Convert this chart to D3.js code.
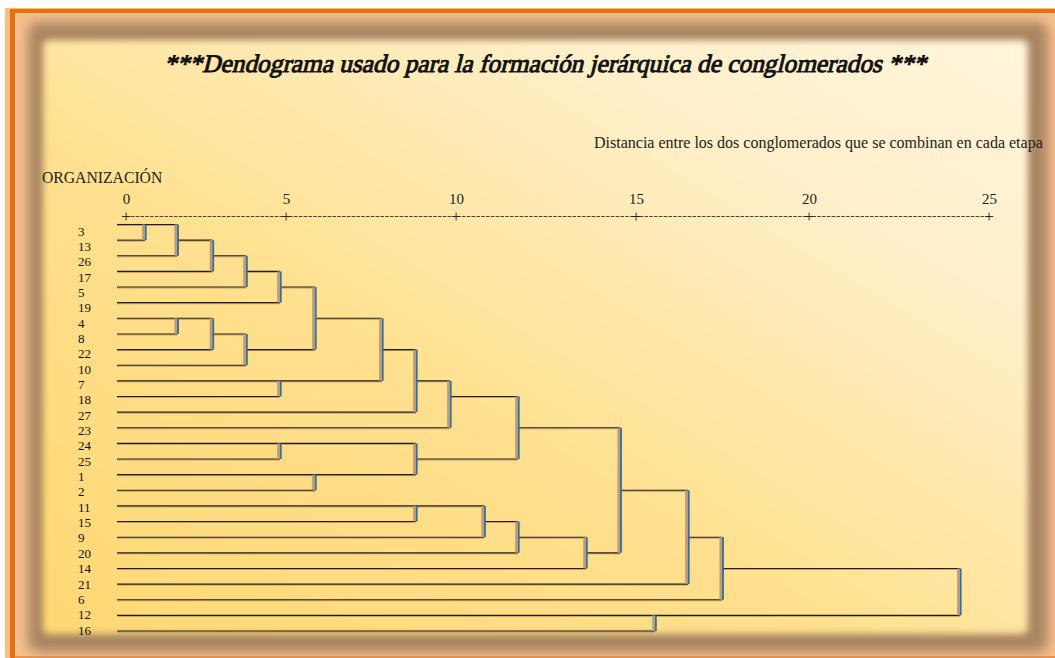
<!DOCTYPE html>
<html><head><meta charset="utf-8">
<script src="https://cdn.jsdelivr.net/npm/d3@7"></script>
<style>html,body{margin:0;padding:0;background:#fff;} svg{display:block;}</style>
</head><body>
<svg id="c" width="1055" height="658"></svg>
<script>
// ---------- data ----------
const leaves = ["3","13","26","17","5","19","4","8","22","10","7","18","27","23","24","25","1","2","11","15","9","20","14","21","6","12","16"];
// agglomeration stages: cluster kept, cluster joined, rescaled distance
const mergeA = ["3","4","3","4","3","3","4","3","7","24","3","1","3","3","24","11","3","11","3","11","11","3","12","3","3","3"];
const mergeB = ["13","8","26","22","17","5","10","19","18","25","4","2","7","27","1","15","23","9","24","20","14","11","16","21","6","12"];
const mergeDist = [0.59,1.6,1.6,2.7,2.7,3.75,3.75,4.81,4.81,4.81,5.85,5.85,7.82,8.82,8.82,8.82,9.82,10.78,11.72,11.72,13.61,14.56,15.55,16.5,17.49,24.19];
const axisTicks = [0,5,10,15,20,25];
const titleText = "***Dendograma usado para la formación jerárquica de conglomerados ***";
const xTitleText = "Distancia entre los dos conglomerados que se combinan en cada etapa";
const yTitleText = "ORGANIZACIÓN";

// ---------- layout ----------
const W = 1055, H = 658;
const SERIF = "'Liberation Serif','Times New Roman',Times,serif";
const tickPx = [126,286,456,636,809,989];
const svg = d3.select("#c");
const defs = svg.append("defs");

const grad = defs.append("linearGradient").attr("id","bg").attr("x1",0).attr("y1",1).attr("x2",1).attr("y2",0);
[[0,"#ffd874"],[0.4,"#ffe08e"],[0.75,"#ffefc8"],[1,"#fff5dc"]].forEach(s=>grad.append("stop").attr("offset",s[0]).attr("stop-color",s[1]));
defs.append("filter").attr("id","blurS").attr("x","-5%").attr("y","-5%").attr("width","110%").attr("height","110%")
  .append("feGaussianBlur").attr("stdDeviation",6);
defs.append("filter").attr("id","blurI").attr("x","-5%").attr("y","-5%").attr("width","110%").attr("height","110%")
  .append("feGaussianBlur").attr("stdDeviation",3.5);

// frame
svg.append("rect").attr("x",0).attr("y",0).attr("width",W).attr("height",H).attr("fill","#fff");
svg.append("rect").attr("x",5).attr("y",8).attr("width",W-5).attr("height",H-8).attr("fill","#f6bf8e");
svg.append("rect").attr("x",10).attr("y",9).attr("width",W-10).attr("height",4).attr("fill","#e8700e");
svg.append("rect").attr("x",10).attr("y",9).attr("width",5).attr("height",H-9).attr("fill","#e8700e");
svg.append("rect").attr("x",15).attr("y",H-2).attr("width",W-15).attr("height",2).attr("fill","#ec9350");
svg.append("rect").attr("x",28).attr("y",22).attr("width",1020).attr("height",630).attr("rx",10)
  .attr("fill","#a98562").attr("filter","url(#blurS)");
svg.append("rect").attr("x",43).attr("y",40).attr("width",985).attr("height",594).attr("rx",6)
  .attr("fill","url(#bg)").attr("filter","url(#blurI)");

// scales
const x = d3.scaleLinear().domain(axisTicks).range(tickPx);
const yRow = d3.scaleLinear().domain([0, leaves.length-1]).range([224.5, 631]);
const yLab = d3.scaleLinear().domain([0, leaves.length-1]).range([231, 630]);
const leafStart = x(0) - 9;

// title (serif regular, slanted and emboldened)
const tG = svg.append("g").attr("transform","translate(545,72) skewX(-14)");
const tT = tG.append("text").attr("x",0).attr("y",0).attr("text-anchor","middle")
  .attr("font-family",SERIF).attr("font-weight","normal").attr("font-style","normal").attr("font-size",23)
  .attr("fill","#111").attr("stroke","#111").attr("stroke-width",0.95).attr("paint-order","stroke")
  .text(titleText);
const tw = tT.node().getComputedTextLength();
tT.attr("font-size", 23 * 762 / tw);

svg.append("text").attr("x",594).attr("y",148)
  .attr("font-family",SERIF).attr("font-size",16).attr("fill","#222").text(xTitleText);
svg.append("text").attr("x",42).attr("y",183)
  .attr("font-family",SERIF).attr("font-size",15.7).attr("fill","#222").text(yTitleText);

// axis
const axisY = 216.5;
const ax = svg.append("g").attr("transform",`translate(0,${axisY})`)
  .call(d3.axisTop(x).tickValues(axisTicks).tickSize(0).tickPadding(13).tickFormat(d3.format("d")));
ax.select(".domain").remove();
ax.selectAll("text").attr("font-family",SERIF).attr("font-size",15).attr("fill","#222");
svg.append("line").attr("x1",x(0)).attr("x2",x(25)).attr("y1",axisY).attr("y2",axisY)
  .attr("stroke","#444").attr("stroke-width",1).attr("stroke-dasharray","3.6,1.2");
svg.append("g").selectAll("text").data(axisTicks).join("text")
  .attr("x",d=>x(d)).attr("y",axisY+5.5).attr("text-anchor","middle")
  .attr("font-family",SERIF).attr("font-size",17).attr("fill","#222").text("+");

// leaf labels
svg.append("g").selectAll("text").data(leaves).join("text")
  .attr("x",78).attr("y",(d,i)=>yLab(i)).attr("dy","0.35em")
  .attr("font-family",SERIF).attr("font-size",13).attr("fill","#111").text(d=>d);

// dendrogram
const state = new Map(leaves.map((l,i)=>[l,{dist:null,row:i}]));
const hSegs = [], vSegs = [];
mergeA.forEach((a,i)=>{
  const b = mergeB[i], d = mergeDist[i];
  const A = state.get(a), B = state.get(b);
  [A,B].forEach(n=>hSegs.push({x0: n.dist===null ? leafStart : x(n.dist), x1: x(d), y: yRow(n.row)}));
  vSegs.push({x: x(d), y0: yRow(Math.min(A.row,B.row)), y1: yRow(Math.max(A.row,B.row))});
  state.set(a,{dist:d,row:Math.floor((A.row+B.row)/2)});
});
const gD = svg.append("g");
gD.selectAll("line.hs").data(hSegs).join("line").attr("class","hs")
  .attr("x1",d=>d.x0).attr("x2",d=>d.x1).attr("y1",d=>d.y+1).attr("y2",d=>d.y+1)
  .attr("stroke","#8c6f48").attr("stroke-opacity",0.55).attr("stroke-width",1);
gD.selectAll("line.h").data(hSegs).join("line").attr("class","h")
  .attr("x1",d=>d.x0).attr("x2",d=>d.x1).attr("y1",d=>d.y).attr("y2",d=>d.y)
  .attr("stroke","#1e1e1e").attr("stroke-width",1.1);
gD.selectAll("line.vs").data(vSegs).join("line").attr("class","vs")
  .attr("x1",d=>d.x-1.5).attr("x2",d=>d.x-1.5).attr("y1",d=>d.y0).attr("y2",d=>d.y1)
  .attr("stroke","#c8975c").attr("stroke-width",2.4);
gD.selectAll("line.v").data(vSegs).join("line").attr("class","v")
  .attr("x1",d=>d.x+0.8).attr("x2",d=>d.x+0.8).attr("y1",d=>d.y0).attr("y2",d=>d.y1)
  .attr("stroke","#2a6fb5").attr("stroke-width",1.9);
</script>
</body></html>
